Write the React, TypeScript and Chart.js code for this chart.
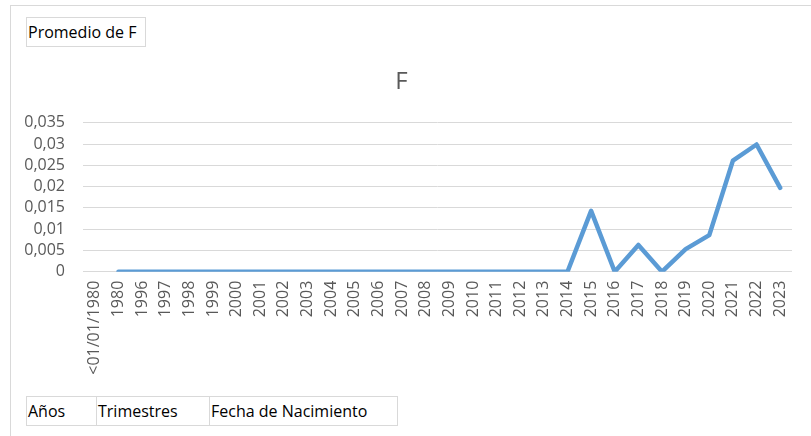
import React, { useEffect, useRef } from "react";
import { Chart, registerables } from "chart.js";

Chart.register(...registerables);

const categories: string[] = [
  "<01/01/1980", "1980", "1996", "1997", "1998", "1999", "2000", "2001", "2002", "2003",
  "2004", "2005", "2006", "2007", "2008", "2009", "2010", "2011", "2012", "2013",
  "2014", "2015", "2016", "2017", "2018", "2019", "2020", "2021", "2022", "2023",
];

const seriesF: (number | null)[] = [
  null, 0, 0, 0, 0, 0, 0, 0, 0, 0,
  0, 0, 0, 0, 0, 0, 0, 0, 0, 0,
  0, 0.0143, 0, 0.0063, 0, 0.0053, 0.0086, 0.0261, 0.0299, 0.0197,
];

const seriesName = "F";
const yMin = 0;
const yMax = 0.035;
const yStep = 0.005;
const topButtons = ["Promedio de F"];
const bottomButtons = ["Años", "Trimestres", "Fecha de Nacimiento"];

const FONT = "'Open Sans', 'Noto Sans', sans-serif";
const GRAY = "#595959";

export default function App() {
  const ref = useRef<HTMLCanvasElement | null>(null);

  useEffect(() => {
    if (!ref.current) return;
    const chart = new Chart(ref.current, {
      type: "line",
      data: {
        labels: categories,
        datasets: [
          {
            label: seriesName,
            data: seriesF,
            borderColor: "#5b9bd5",
            backgroundColor: "#5b9bd5",
            borderWidth: 4.5,
            pointRadius: 0,
            tension: 0,
            borderJoinStyle: "round",
            borderCapStyle: "round",
          },
        ],
      },
      options: {
        responsive: false,
        animation: false,
        layout: { padding: { top: 0, left: 0, right: 19, bottom: 0 } },
        plugins: {
          legend: { display: false },
          tooltip: { enabled: false },
          title: {
            display: true,
            text: seriesName,
            color: GRAY,
            font: { family: FONT, size: 24, weight: "normal" },
            padding: { top: 62, bottom: 26 },
          },
        },
        scales: {
          x: {
            offset: true,
            grid: { display: false, drawTicks: false },
            border: { display: false },
            ticks: {
              autoSkip: false,
              maxRotation: 90,
              minRotation: 90,
              padding: 9,
              color: GRAY,
              font: { family: FONT, size: 16 },
            },
            afterFit: (s: any) => {
              s.height = 164.3;
            },
          },
          y: {
            min: yMin,
            max: yMax,
            grid: { color: "#d9d9d9", lineWidth: 1, drawTicks: false },
            border: { display: false },
            ticks: {
              autoSkip: false,
              stepSize: yStep,
              padding: 18,
              color: GRAY,
              font: { family: FONT, size: 16 },
              callback: (v: any) => Number(Number(v).toFixed(3)).toString().replace(".", ","),
            },
            afterFit: (s: any) => {
              s.width = 72;
            },
          },
        },
      },
    });
    return () => chart.destroy();
  }, []);

  const btn: React.CSSProperties = {
    position: "absolute",
    boxSizing: "border-box",
    height: 30,
    border: "1px solid #d9d9d9",
    background: "#fff",
    fontFamily: FONT,
    fontSize: 16,
    color: "#000",
    lineHeight: "28px",
    paddingLeft: 1,
    whiteSpace: "nowrap",
    overflow: "hidden",
  };

  const bottomX = [26, 96, 209];
  const bottomW = [71, 114, 189];

  return (
    <div style={{ position: "fixed", left: 0, top: 0, width: 811, height: 436, background: "#fff", overflow: "hidden" }}>
      <div
        style={{
          position: "absolute",
          left: 10,
          top: 5,
          width: 820,
          height: 450,
          border: "1px solid #d9d9d9",
          boxSizing: "border-box",
        }}
      />
      <canvas
        ref={ref}
        width={800}
        height={430}
        style={{ position: "absolute", left: 11, top: 6, width: 800, height: 430 }}
      />
      {topButtons.map((t) => (
        <div key={t} style={{ ...btn, left: 26, top: 17, width: 120 }}>
          {t}
        </div>
      ))}
      {bottomButtons.map((t, i) => (
        <div key={t} style={{ ...btn, left: bottomX[i], top: 396, width: bottomW[i] }}>
          {t}
        </div>
      ))}
    </div>
  );
}
